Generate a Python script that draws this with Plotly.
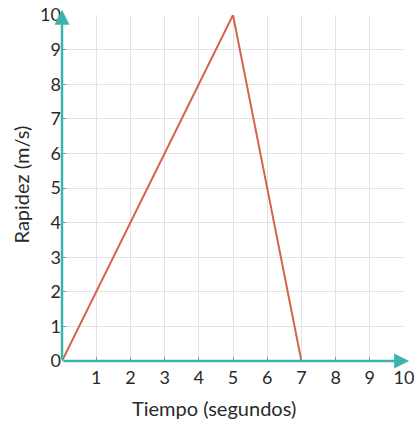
import plotly.graph_objects as go

tiempo = [0, 5, 7]
rapidez = [0, 10, 0]
x_ticks = [1, 2, 3, 4, 5, 6, 7, 8, 9, 10]
y_ticks = [0, 1, 2, 3, 4, 5, 6, 7, 8, 9, 10]

teal = "#3cb4ae"
font = "Lato"
txt = "#2a2a2a"

fig = go.Figure()
fig.add_trace(go.Scatter(x=tiempo, y=rapidez, mode="lines",
                         line=dict(color="#d2654c", width=2), showlegend=False))

fig.update_xaxes(range=[0, 10.0001], tickvals=x_ticks, ticktext=[str(v) for v in x_ticks],
                 showgrid=True, gridcolor="#e3e3e3", gridwidth=1, zeroline=False,
                 showline=False, ticks="inside", ticklen=4, tickcolor=teal,
                 tickfont=dict(family=font, size=18, color=txt), automargin=False,
                 ticklabeloverflow="allow", ticklabelstandoff=4,
                 fixedrange=True)
fig.update_yaxes(range=[0, 10.0001], tickvals=y_ticks, ticktext=[str(v) for v in y_ticks],
                 showgrid=True, gridcolor="#e3e3e3", gridwidth=1, zeroline=False,
                 showline=False, ticks="inside", ticklen=4, tickcolor=teal,
                 tickfont=dict(family=font, size=18, color=txt), automargin=False,
                 ticklabeloverflow="allow",
                 fixedrange=True)

# axis titles
fig.add_annotation(x=0.445, y=-0.136, xref="paper", yref="paper", text="Tiempo (segundos)",
                   xanchor="center", yanchor="middle",
                   showarrow=False, font=dict(family=font, size=20, color=txt))
fig.add_annotation(x=-0.121, y=0.509, xref="paper", yref="paper", text="Rapidez (m/s)", textangle=-90,
                   xanchor="center", yanchor="middle",
                   showarrow=False, font=dict(family=font, size=20, color=txt))

# axes with arrowheads
fig.add_annotation(x=0, y=10.15, ax=0, ay=0, xref="x", yref="y", axref="x", ayref="y",
                   showarrow=True, arrowhead=2, arrowsize=1.2, arrowwidth=2.5, arrowcolor=teal, text="")
fig.add_annotation(x=10.15, y=0, ax=0, ay=0, xref="x", yref="y", axref="x", ayref="y",
                   showarrow=True, arrowhead=2, arrowsize=1.2, arrowwidth=2.5, arrowcolor=teal, text="")

fig.update_layout(width=414, height=421, margin=dict(l=62, r=10, t=15, b=60),
                  plot_bgcolor="white", paper_bgcolor="white", font=dict(family=font))
fig.write_html("out.html", config={"displayModeBar": False},
               post_script="document.body.style.margin='0';")
